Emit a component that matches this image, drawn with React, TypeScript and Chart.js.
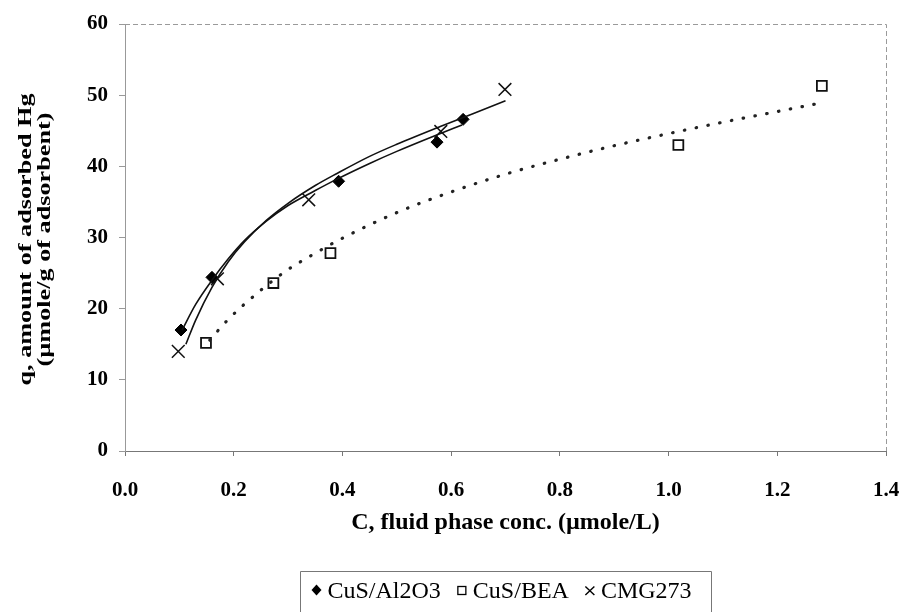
import React, { useEffect, useRef } from 'react';
import { Chart, registerables } from 'chart.js';
Chart.register(...registerables);

// Measured data points
const al2o3X = [0.103, 0.160, 0.393, 0.574, 0.622];
const al2o3Y = [17.0, 24.4, 37.9, 43.4, 46.6];
const beaX = [0.149, 0.273, 0.378, 1.018, 1.282];
const beaY = [15.2, 23.6, 27.8, 43.0, 51.3];
const cmgX = [0.098, 0.170, 0.338, 0.581, 0.699];
const cmgY = [14.0, 24.2, 35.3, 44.9, 50.8];

// Fitted curves
const al2o3FitX = [0.105, 0.13, 0.16, 0.19, 0.22, 0.26, 0.30, 0.35, 0.39, 0.45, 0.50, 0.57, 0.62];
const al2o3FitY = [17.0, 20.6, 24.0, 27.0, 29.6, 32.3, 34.5, 36.6, 38.2, 40.4, 42.1, 44.3, 45.8];
const cmgFitX = [0.112, 0.13, 0.16, 0.19, 0.22, 0.26, 0.30, 0.35, 0.39, 0.45, 0.50, 0.58, 0.64, 0.70];
const cmgFitY = [15.0, 18.4, 23.0, 26.6, 29.4, 32.4, 34.8, 37.3, 39.0, 41.4, 43.1, 45.6, 47.4, 49.2];
const beaFitX = [0.156, 0.19, 0.25, 0.30, 0.35, 0.40, 0.50, 0.60, 0.70, 0.80, 0.90, 1.00, 1.10, 1.20, 1.28];
const beaFitY = [15.6, 18.5, 22.6, 25.5, 27.8, 29.9, 33.5, 36.4, 38.9, 41.0, 42.9, 44.6, 46.2, 47.7, 48.9];

const seriesNames = ['CuS/Al2O3', 'CuS/BEA', 'CMG273'];
const xTitle = 'C, fluid phase conc. (µmole/L)';
const yTitle = ['q, amount of adsorbed Hg', '(µmole/g of adsorbent)'];

const zip = (xs: number[], ys: number[]) => xs.map((x, i) => ({ x, y: ys[i] }));

const SERIF = '"Liberation Serif", "DejaVu Serif", serif';

const frameAndLegend = {
  id: 'frameAndLegend',
  afterDraw(chart: any) {
    const ctx = chart.ctx as CanvasRenderingContext2D;
    const a = chart.chartArea;
    ctx.save();
    // plot area border top & right (dashed gray)
    ctx.strokeStyle = '#9a9a9a';
    ctx.lineWidth = 1;
    ctx.setLineDash([5, 3]);
    ctx.beginPath();
    ctx.moveTo(a.left, a.top + 0.5);
    ctx.lineTo(a.right + 0.5, a.top + 0.5);
    ctx.lineTo(a.right + 0.5, a.bottom);
    ctx.stroke();
    ctx.setLineDash([]);

    // y-axis title (two lines, rotated, stretched along its length like the scan)
    const cy = (a.top + a.bottom) / 2 + 2;
    ctx.fillStyle = '#000';
    ctx.font = `bold 19px ${SERIF}`;
    ctx.textAlign = 'center';
    ctx.textBaseline = 'middle';
    yTitle.forEach((line, i) => {
      ctx.save();
      ctx.translate(26 + i * 19, cy);
      ctx.rotate(-Math.PI / 2);
      ctx.scale(1.38, 1);
      ctx.fillText(line, 0, 0);
      ctx.restore();
    });

    // legend
    ctx.font = `24px ${SERIF}`;
    ctx.textBaseline = 'alphabetic';
    ctx.textAlign = 'left';
    const markerW = 10;
    const gapMT = 6;
    const gapItems = 16;
    const padL = 11;
    const padR = 19;
    const widths = seriesNames.map((n) => ctx.measureText(n).width);
    const content = widths.reduce((s, w) => s + markerW + gapMT + w, 0) + gapItems * (seriesNames.length - 1);
    const boxW = content + padL + padR;
    const cx = (a.left + a.right) / 2;
    const boxLeft = Math.round(cx - boxW / 2) + 0.5;
    const boxRight = Math.round(cx + boxW / 2) + 0.5;
    const boxTop = 571.5;
    const baseY = 598;
    const midY = 590;
    ctx.strokeStyle = '#777';
    ctx.lineWidth = 1;
    ctx.beginPath();
    ctx.moveTo(boxLeft, chart.height + 2);
    ctx.lineTo(boxLeft, boxTop);
    ctx.lineTo(boxRight, boxTop);
    ctx.lineTo(boxRight, chart.height + 2);
    ctx.stroke();

    let x = boxLeft + padL;
    seriesNames.forEach((name, i) => {
      const mx = x + markerW / 2;
      ctx.beginPath();
      if (i === 0) {
        ctx.fillStyle = '#000';
        ctx.moveTo(mx, midY - 5.5);
        ctx.lineTo(mx + 5, midY);
        ctx.lineTo(mx, midY + 5.5);
        ctx.lineTo(mx - 5, midY);
        ctx.closePath();
        ctx.fill();
      } else if (i === 1) {
        ctx.strokeStyle = '#000';
        ctx.lineWidth = 1.3;
        ctx.strokeRect(mx - 4, midY - 3.5, 8, 8);
      } else {
        ctx.strokeStyle = '#000';
        ctx.lineWidth = 1.4;
        ctx.moveTo(mx - 4.5, midY - 3.5);
        ctx.lineTo(mx + 4.5, midY + 5);
        ctx.moveTo(mx + 4.5, midY - 3.5);
        ctx.lineTo(mx - 4.5, midY + 5);
        ctx.stroke();
      }
      ctx.fillStyle = '#000';
      ctx.fillText(name, x + markerW + gapMT, baseY);
      x += markerW + gapMT + widths[i] + gapItems;
    });
    ctx.restore();
  },
};

export default function App() {
  const ref = useRef<HTMLCanvasElement | null>(null);
  useEffect(() => {
    if (!ref.current) return;
    const tickFont = { family: SERIF, size: 21, weight: 'bold' as const };
    const chart = new Chart(ref.current, {
      type: 'scatter',
      data: {
        datasets: [
          {
            label: 'fit Al2O3',
            data: zip(al2o3FitX, al2o3FitY),
            showLine: true,
            borderColor: '#111',
            borderWidth: 1.6,
            pointRadius: 0,
            cubicInterpolationMode: 'monotone',
          },
          {
            label: 'fit CMG',
            data: zip(cmgFitX, cmgFitY),
            showLine: true,
            borderColor: '#111',
            borderWidth: 1.6,
            pointRadius: 0,
            cubicInterpolationMode: 'monotone',
          },
          {
            label: 'fit BEA',
            data: zip(beaFitX, beaFitY),
            showLine: true,
            borderColor: '#222',
            borderWidth: 3.2,
            borderDash: [0.5, 11.5],
            borderCapStyle: 'round',
            pointRadius: 0,
            cubicInterpolationMode: 'monotone',
          },
          {
            label: seriesNames[0],
            data: zip(al2o3X, al2o3Y),
            pointStyle: 'rectRot',
            pointRadius: 6,
            backgroundColor: '#000',
            borderColor: '#000',
            borderWidth: 1,
          },
          {
            label: seriesNames[1],
            data: zip(beaX, beaY),
            pointStyle: 'rect',
            pointRadius: 7,
            backgroundColor: 'rgba(255,255,255,0)',
            borderColor: '#111',
            borderWidth: 1.8,
          },
          {
            label: seriesNames[2],
            data: zip(cmgX, cmgY),
            pointStyle: 'crossRot',
            pointRadius: 9,
            borderColor: '#111',
            borderWidth: 1.5,
          },
        ],
      },
      options: {
        responsive: false,
        animation: false,
        layout: { padding: { left: 0, top: 24, right: 18, bottom: 0 } },
        plugins: {
          legend: { display: false },
          tooltip: { enabled: false },
        },
        scales: {
          x: {
            type: 'linear',
            min: 0,
            max: 1.4,
            afterFit: (s: any) => { s.height = 161; s.paddingLeft = 0; s.paddingRight = 0; },
            ticks: {
              stepSize: 0.2,
              color: '#000',
              font: tickFont,
              padding: 22,
              maxRotation: 0,
              callback: (v: any) => Number(v).toFixed(1),
            },
            grid: { drawOnChartArea: false, drawTicks: true, tickLength: 5, color: '#777' },
            border: { display: true, color: '#777', width: 1 },
            title: {
              display: true,
              text: xTitle,
              color: '#000',
              font: { family: SERIF, size: 24, weight: 'bold' },
              padding: { top: 0, bottom: 75 },
            },
          },
          y: {
            type: 'linear',
            min: 0,
            max: 60,
            afterFit: (s: any) => { s.width = 125; s.paddingTop = 0; s.paddingBottom = 0; },
            ticks: {
              stepSize: 10,
              color: '#000',
              font: tickFont,
              padding: 11,
            },
            grid: { drawOnChartArea: false, drawTicks: true, tickLength: 6, color: '#999' },
            border: { display: true, color: '#999', width: 1, dash: [6, 3] },
            title: { display: false },
          },
        },
      },
      plugins: [frameAndLegend],
    });
    return () => chart.destroy();
  }, []);
  return (
    <div style={{ position: 'absolute', left: 0, top: 0, width: 904, height: 612, background: '#fff' }}>
      <canvas ref={ref} width={904} height={612} style={{ display: 'block' }} />
    </div>
  );
}
